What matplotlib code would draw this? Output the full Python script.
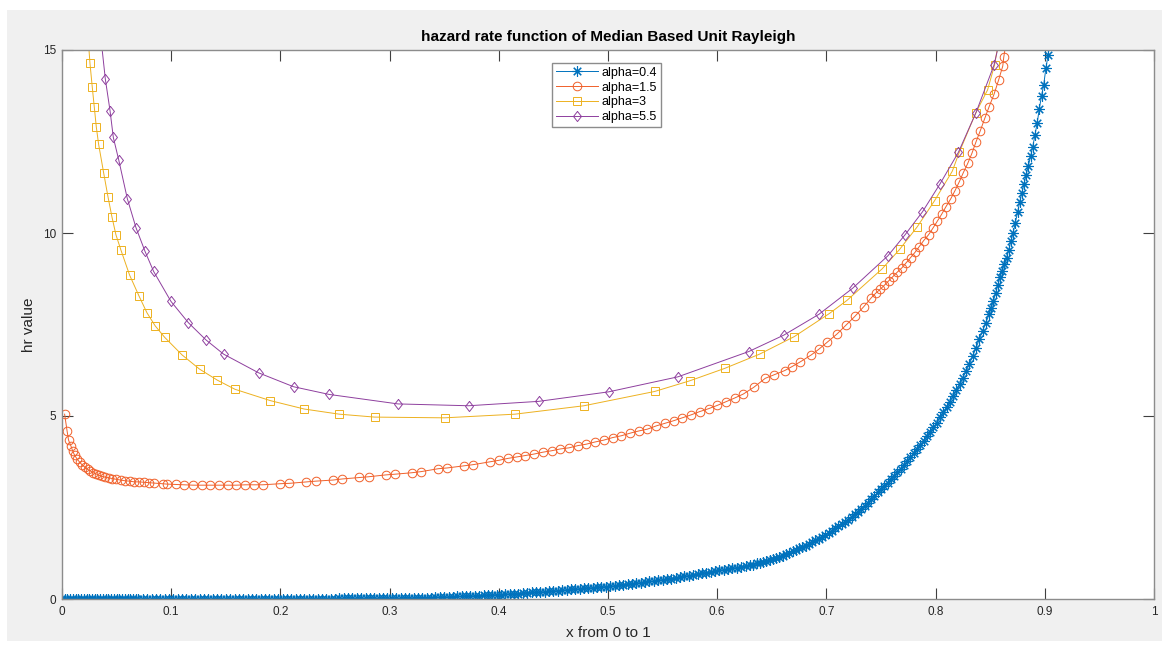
import matplotlib
matplotlib.use("Agg")
import matplotlib.pyplot as plt
from matplotlib.patches import Rectangle

plt.rcParams['font.family'] = ['Liberation Sans', 'DejaVu Sans']

# ---- data: hazard rate curves (x, hr) ----
# alpha = 0.4, sampled in four stretches
a04_x1 = [0.0000, 0.0025, 0.0050, 0.0075, 0.0100, 0.0125, 0.0150, 0.0175, 0.0200, 0.0225,
          0.0250, 0.0275, 0.0300, 0.0325, 0.0350, 0.0375, 0.0400, 0.0425, 0.0450, 0.0475,
          0.0500, 0.0525, 0.0550, 0.0575, 0.0600, 0.0625, 0.0650, 0.0675, 0.0700]
a04_y1 = [0.00, 0.00, 0.00, 0.00, 0.00, 0.00, 0.00, 0.00, 0.00, 0.00,
          0.00, 0.00, 0.00, 0.00, 0.00, 0.00, 0.00, 0.00, 0.00, 0.00,
          0.00, 0.00, 0.00, 0.00, 0.00, 0.00, 0.00, 0.00, 0.00]

a04_x2 = [0.074, 0.078, 0.082, 0.086, 0.090, 0.094, 0.098, 0.102, 0.106, 0.110,
          0.114, 0.118, 0.122, 0.126, 0.130, 0.134, 0.138, 0.142, 0.146, 0.150,
          0.154, 0.158, 0.162, 0.166, 0.170, 0.174, 0.178, 0.182, 0.186, 0.190,
          0.194, 0.198, 0.202, 0.206, 0.210, 0.214, 0.218, 0.222, 0.226, 0.230,
          0.234, 0.238, 0.242, 0.246, 0.250, 0.254, 0.258, 0.262, 0.266, 0.270,
          0.274, 0.278, 0.282, 0.286, 0.290, 0.294, 0.298, 0.302, 0.306, 0.310,
          0.314, 0.318, 0.322, 0.326, 0.330, 0.334, 0.338, 0.342, 0.346, 0.350,
          0.354, 0.358, 0.362, 0.366, 0.370, 0.374, 0.378, 0.382, 0.386, 0.390,
          0.394, 0.398, 0.402, 0.406, 0.410, 0.414, 0.418, 0.422, 0.426, 0.430,
          0.434, 0.438, 0.442, 0.446, 0.450, 0.454, 0.458, 0.462, 0.466, 0.470,
          0.474, 0.478, 0.482, 0.486, 0.490, 0.494, 0.498, 0.502, 0.506, 0.510,
          0.514, 0.518, 0.522, 0.526, 0.530, 0.534, 0.538, 0.542, 0.546, 0.550,
          0.554, 0.558, 0.562, 0.566, 0.570, 0.574, 0.578, 0.582, 0.586, 0.590,
          0.594, 0.598, 0.602, 0.606, 0.610, 0.614, 0.618, 0.622, 0.626, 0.630]
a04_y2 = [0.00, 0.00, 0.00, 0.00, 0.00, 0.00, 0.00, 0.00, 0.00, 0.00,
          0.00, 0.00, 0.00, 0.00, 0.00, 0.00, 0.00, 0.00, 0.00, 0.00,
          0.00, 0.00, 0.00, 0.00, 0.00, 0.00, 0.00, 0.00, 0.00, 0.00,
          0.00, 0.00, 0.01, 0.01, 0.01, 0.01, 0.01, 0.01, 0.01, 0.01,
          0.01, 0.01, 0.01, 0.01, 0.01, 0.02, 0.02, 0.02, 0.02, 0.02,
          0.02, 0.02, 0.02, 0.02, 0.02, 0.02, 0.02, 0.02, 0.02, 0.02,
          0.03, 0.03, 0.03, 0.03, 0.04, 0.04, 0.04, 0.05, 0.05, 0.05,
          0.06, 0.06, 0.07, 0.07, 0.08, 0.08, 0.09, 0.09, 0.10, 0.10,
          0.11, 0.12, 0.12, 0.13, 0.14, 0.14, 0.15, 0.16, 0.17, 0.18,
          0.18, 0.19, 0.20, 0.21, 0.22, 0.23, 0.24, 0.25, 0.26, 0.27,
          0.28, 0.29, 0.30, 0.31, 0.32, 0.33, 0.34, 0.35, 0.36, 0.38,
          0.39, 0.40, 0.42, 0.43, 0.45, 0.46, 0.48, 0.49, 0.51, 0.53,
          0.54, 0.56, 0.58, 0.60, 0.62, 0.64, 0.66, 0.68, 0.70, 0.72,
          0.74, 0.76, 0.78, 0.80, 0.82, 0.84, 0.86, 0.88, 0.90, 0.92]

a04_x3 = [0.633, 0.636, 0.639, 0.642, 0.645, 0.648, 0.651, 0.654, 0.657, 0.660,
          0.663, 0.666, 0.669, 0.672, 0.675, 0.678, 0.681, 0.684, 0.687, 0.690,
          0.693, 0.696, 0.699, 0.702, 0.705, 0.708, 0.711, 0.714, 0.717, 0.720,
          0.723, 0.726, 0.729, 0.732, 0.735, 0.738, 0.741, 0.744, 0.747, 0.750,
          0.753, 0.756, 0.759, 0.762, 0.765, 0.768, 0.771, 0.774, 0.777, 0.780,
          0.783, 0.786, 0.789, 0.792, 0.795, 0.798, 0.801, 0.804, 0.807, 0.810,
          0.813, 0.816, 0.819, 0.822, 0.825, 0.828, 0.831, 0.834, 0.837, 0.840,
          0.843, 0.846, 0.849]
a04_y3 = [0.94, 0.97, 0.99, 1.02, 1.04, 1.07, 1.10, 1.12, 1.15, 1.18,
          1.22, 1.26, 1.30, 1.34, 1.38, 1.42, 1.46, 1.50, 1.55, 1.60,
          1.65, 1.70, 1.75, 1.81, 1.87, 1.93, 1.99, 2.05, 2.11, 2.17,
          2.24, 2.31, 2.39, 2.47, 2.55, 2.63, 2.72, 2.81, 2.91, 3.01,
          3.09, 3.18, 3.27, 3.36, 3.46, 3.55, 3.65, 3.76, 3.88, 4.00,
          4.11, 4.22, 4.33, 4.45, 4.57, 4.69, 4.82, 4.96, 5.10, 5.24,
          5.39, 5.54, 5.70, 5.87, 6.05, 6.23, 6.43, 6.64, 6.86, 7.10,
          7.32, 7.55, 7.78]

a04_x4 = [0.851, 0.853, 0.855, 0.857, 0.859, 0.861, 0.863, 0.865, 0.867, 0.869,
          0.871, 0.873, 0.875, 0.877, 0.879, 0.881, 0.883, 0.885, 0.887, 0.889,
          0.891, 0.893, 0.895, 0.897, 0.899, 0.901, 0.903, 0.905]
a04_y4 = [7.95, 8.15, 8.36, 8.58, 8.79, 8.97, 9.14, 9.33, 9.54, 9.78,
          10.00, 10.28, 10.57, 10.84, 11.09, 11.33, 11.58, 11.84, 12.10, 12.36,
          12.68, 13.00, 13.40, 13.75, 14.05, 14.50, 14.86, 15.30]

a15_x = [0.0024, 0.0046, 0.0060, 0.0082, 0.0097, 0.0115, 0.0137, 0.0161, 0.0186, 0.0211,
         0.0235, 0.0260, 0.0284, 0.0311, 0.0339, 0.0366, 0.0394, 0.0427, 0.0460, 0.0497,
         0.0537, 0.0577, 0.0619, 0.0662, 0.0705, 0.0747, 0.0796, 0.0842, 0.0925, 0.0958,
         0.1040, 0.1120, 0.1200, 0.1279, 0.1355, 0.1440, 0.1517, 0.1596, 0.1679, 0.1761,
         0.1837, 0.1999, 0.2081, 0.2237, 0.2323, 0.2482, 0.2567, 0.2722, 0.2808, 0.2963,
         0.3049, 0.3205, 0.3288, 0.3446, 0.3526, 0.3684, 0.3764, 0.3922, 0.4002, 0.4080,
         0.4163, 0.4243, 0.4322, 0.4401, 0.4483, 0.4563, 0.4643, 0.4722, 0.4801, 0.4881,
         0.4960, 0.5042, 0.5122, 0.5201, 0.5280, 0.5360, 0.5442, 0.5522, 0.5600, 0.5680,
         0.5760, 0.5839, 0.5921, 0.6001, 0.6080, 0.6159, 0.6239, 0.6333, 0.6440, 0.6516,
         0.6617, 0.6685, 0.6761, 0.6862, 0.6929, 0.7005, 0.7097, 0.7182, 0.7260, 0.7340,
         0.7411, 0.7450, 0.7491, 0.7530, 0.7570, 0.7610, 0.7649, 0.7692, 0.7732, 0.7771,
         0.7811, 0.7850, 0.7890, 0.7935, 0.7975, 0.8015, 0.8055, 0.8095, 0.8138, 0.8178,
         0.8217, 0.8254, 0.8294, 0.8333, 0.8370, 0.8410, 0.8450, 0.8490, 0.8535, 0.8577,
         0.8615, 0.8624, 0.8650]
a15_y = [5.05, 4.60, 4.34, 4.18, 4.05, 3.93, 3.83, 3.74, 3.66, 3.60,
         3.54, 3.50, 3.45, 3.42, 3.38, 3.35, 3.33, 3.31, 3.29, 3.27,
         3.25, 3.23, 3.22, 3.20, 3.20, 3.19, 3.18, 3.17, 3.15, 3.14,
         3.13, 3.12, 3.11, 3.11, 3.11, 3.11, 3.11, 3.11, 3.12, 3.12,
         3.12, 3.15, 3.16, 3.20, 3.22, 3.25, 3.28, 3.32, 3.34, 3.39,
         3.41, 3.45, 3.48, 3.56, 3.58, 3.64, 3.67, 3.75, 3.79, 3.84,
         3.88, 3.92, 3.96, 4.01, 4.05, 4.10, 4.13, 4.19, 4.23, 4.29,
         4.34, 4.41, 4.46, 4.53, 4.59, 4.64, 4.73, 4.80, 4.87, 4.95,
         5.03, 5.12, 5.20, 5.29, 5.39, 5.49, 5.60, 5.78, 6.03, 6.12,
         6.24, 6.35, 6.48, 6.67, 6.82, 7.01, 7.24, 7.49, 7.72, 7.98,
         8.23, 8.35, 8.46, 8.57, 8.69, 8.81, 8.93, 9.05, 9.19, 9.33,
         9.47, 9.63, 9.79, 9.95, 10.13, 10.32, 10.51, 10.72, 10.93, 11.16,
         11.40, 11.65, 11.90, 12.18, 12.49, 12.80, 13.13, 13.45, 13.79, 14.18,
         14.56, 14.80, 15.30]

a3_x = [0.0240, 0.0256, 0.0277, 0.0296, 0.0314, 0.0335, 0.0381, 0.0421, 0.0458, 0.0494,
        0.0540, 0.0619, 0.0705, 0.0778, 0.0854, 0.0940, 0.1099, 0.1260, 0.1422, 0.1584,
        0.1908, 0.2219, 0.2539, 0.2863, 0.3504, 0.4148, 0.4780, 0.5427, 0.5747, 0.6068,
        0.6388, 0.6706, 0.7027, 0.7189, 0.7510, 0.7670, 0.7832, 0.7990, 0.8153, 0.8216,
        0.8366, 0.8476, 0.8540, 0.8580]
a3_y = [15.30, 14.64, 13.99, 13.43, 12.90, 12.43, 11.65, 10.99, 10.43, 9.95,
        9.53, 8.85, 8.28, 7.82, 7.46, 7.15, 6.67, 6.28, 5.98, 5.73,
        5.42, 5.19, 5.05, 4.97, 4.95, 5.05, 5.28, 5.67, 5.96, 6.30,
        6.69, 7.17, 7.80, 8.16, 9.02, 9.55, 10.17, 10.88, 11.69, 12.20,
        13.27, 13.91, 14.59, 15.30]

a55_x = [0.0350, 0.0397, 0.0440, 0.0470, 0.0520, 0.0598, 0.0677, 0.0760, 0.0839, 0.0998,
         0.1157, 0.1318, 0.1480, 0.1800, 0.2120, 0.2445, 0.3077, 0.3723, 0.4365, 0.5006,
         0.5640, 0.6288, 0.6610, 0.6932, 0.7240, 0.7564, 0.7720, 0.7880, 0.8040, 0.8208,
         0.8370, 0.8535, 0.8590]
a55_y = [15.50, 14.20, 13.34, 12.61, 11.99, 10.94, 10.15, 9.50, 8.95, 8.13,
         7.55, 7.08, 6.69, 6.18, 5.80, 5.59, 5.33, 5.28, 5.40, 5.66,
         6.07, 6.76, 7.21, 7.78, 8.49, 9.38, 9.95, 10.58, 11.34, 12.20,
         13.29, 14.59, 15.30]

labels = ['alpha=0.4', 'alpha=1.5', 'alpha=3', 'alpha=5.5']
colors = ['#0072BD', '#F0602A', '#EDB120', '#8E3F9E']

x_ticks = [0, 0.1, 0.2, 0.3, 0.4, 0.5, 0.6, 0.7, 0.8, 0.9, 1]
x_ticklabels = ['0', '0.1', '0.2', '0.3', '0.4', '0.5', '0.6', '0.7', '0.8', '0.9', '1']
y_ticks = [0, 5, 10, 15]

a04_x = a04_x1 + a04_x2 + a04_x3 + a04_x4
a04_y = a04_y1 + a04_y2 + a04_y3 + a04_y4

# MATLAB-like diamond (taller than wide)
diamond = [(0, 1), (0.78, 0), (0, -1), (-0.78, 0), (0, 1)]

W, H = 1167, 649
fig = plt.figure(figsize=(W / 100, H / 100), dpi=100)
fig.patch.set_facecolor('white')
# grey figure window area behind the axes
fig.patches.append(Rectangle((7 / W, 8 / H), (1162 - 7) / W, (639 - 8) / H,
                             transform=fig.transFigure, facecolor='#F0F0F0',
                             edgecolor='none', zorder=-10))

ax = fig.add_axes([62 / W, 1 - 599 / H, (1154 - 62) / W, (599 - 50) / H])
ax.set_zorder(1)
ax.set_facecolor('white')

ax.plot(a04_x, a04_y, color=colors[0], lw=0.7, marker=(8, 2, 0), ms=7.5,
        mew=0.8, mfc='none', label=labels[0])
ax.plot(a15_x, a15_y, color=colors[1], lw=0.7, marker='o', ms=6.2,
        mew=0.7, mfc='none', label=labels[1])
ax.plot(a3_x, a3_y, color=colors[2], lw=0.7, marker='s', ms=5.5,
        mew=0.7, mfc='none', label=labels[2])
ax.plot(a55_x, a55_y, color=colors[3], lw=0.7, marker=diamond, ms=7.3,
        mew=0.7, mfc='none', label=labels[3])

ax.set_xlim(0, 1)
ax.set_ylim(0, 15)
ax.set_xticks(x_ticks)
ax.set_xticklabels(x_ticklabels)
ax.set_yticks(y_ticks)

spine_col = '#8C8C8C'
for s in ax.spines.values():
    s.set_color(spine_col)
    s.set_linewidth(1.0)
ax.tick_params(axis='both', direction='in', length=7.8, width=0.8,
               color='#404040', labelcolor='#262626', labelsize=8.5,
               top=True, right=True)
ax.tick_params(axis='x', pad=5)
ax.tick_params(axis='y', pad=4)

ax.set_xlabel('x from 0 to 1', fontsize=11, color='#262626', labelpad=6)
ax.set_ylabel('hr value', fontsize=11, color='#262626', labelpad=5)

fig.text(608 / W, 1 - 41 / H, 'hazard rate function of Median Based Unit Rayleigh',
         ha='center', va='baseline', fontsize=11, fontweight='bold', color='black')

leg = ax.legend(loc='upper left', bbox_to_anchor=((552 - 62) / 1092, (599 - 63) / 549),
                borderaxespad=0, fontsize=9, frameon=True, fancybox=False,
                edgecolor='#8C8C8C', framealpha=1, handlelength=3.4,
                handletextpad=0.3, labelspacing=0.22, borderpad=0.3)
leg.get_frame().set_linewidth(1.0)

fig.savefig('out.png', dpi=100, facecolor=fig.get_facecolor())
